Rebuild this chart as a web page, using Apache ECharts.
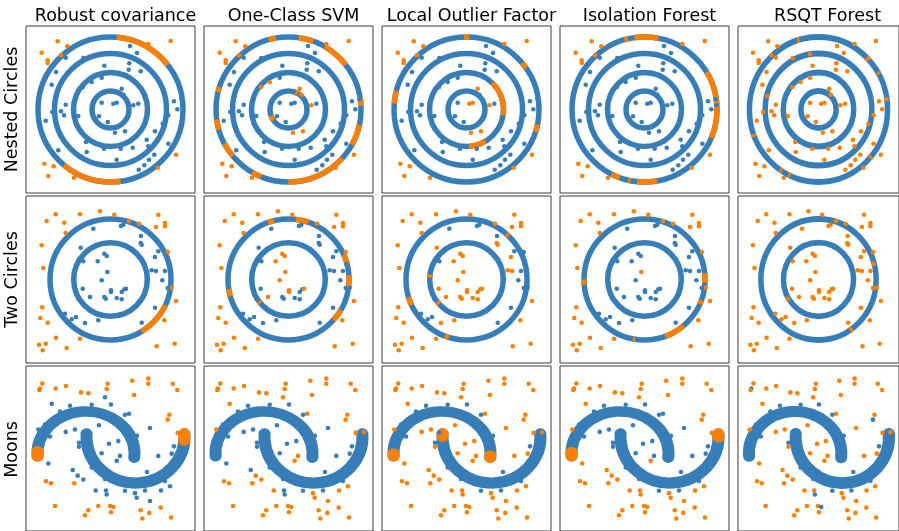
<!DOCTYPE html>
<html>
<head>
<meta charset="utf-8">
<script src="https://cdn.jsdelivr.net/npm/echarts@6/dist/echarts.min.js"></script>
<style>
  html, body { margin: 0; padding: 0; background: #fff; }
  #chart { width: 899px; height: 531px; }
</style>
</head>
<body>
<div id="chart"></div>
<script>
// ---- Labels ----
const methods = ['Robust covariance', 'One-Class SVM', 'Local Outlier Factor', 'Isolation Forest', 'RSQT Forest'];
const datasets = ['Nested Circles', 'Two Circles', 'Moons'];

// ---- Inlier structures: [cx, cy, rx, ry, startDeg, endDeg] (panel units, origin at panel centre) ----
const nestedShapes = [
  [0, 0, 72.5, 72.5, 0, 360],
  [0, 0, 56, 56, 0, 360],
  [0, 0, 37, 37, 0, 360],
  [0, 0, 18.5, 18.5, 0, 360]
];
const twoCircleShapes = [
  [0, 0, 60.5, 60.5, 0, 360],
  [0, 0, 36.8, 36.8, 0, 360]
];
const moonShapes = [
  [-24.5, -5, 48.5, 42.5, -6, 184],
  [25, 11.5, 49, 46.5, 176, 364]
];

// ---- Parts of the structures flagged as outliers, per method: [shapeIndex, startDeg, endDeg] ----
const nestedFlaggedArcs = [
  [[0, 38, 85], [0, 230, 278]],
  [[0, 100, 106], [0, 70, 82], [0, 38, 60], [0, 3, 9], [0, 331, 348], [0, 270, 318], [0, 240, 248],
   [0, 162, 166], [0, 188, 196], [0, 208, 220], [3, 200, 215], [3, 60, 68]],
  [[0, 35, 40], [0, 342, 348], [0, 165, 175], [0, 88, 92], [2, -9, 46], [2, 274, 301]],
  [[0, 79, 98], [0, 103, 106], [0, 5, 31], [0, -23, 2], [0, 264, 280], [0, 243, 250], [0, 257, 259]],
  [[0, 106, 108], [0, 43, 46], [0, 29, 31], [0, -42, -40], [0, 236, 238], [0, 244, 246], [0, 200, 202]]
];
const twoCircleFlaggedArcs = [
  [[0, 301, 335]],
  [[0, 104, 110], [0, 72, 83], [0, 14, 24], [0, -9, 4], [0, 318, 330], [0, 189, 196], [1, 216, 220]],
  [[0, 197, 205], [0, 249, 253], [1, 217, 222], [1, 172, 177], [0, 46, 49]],
  [[0, 180, 185], [0, -3, 6], [0, -24, -20], [0, 290, 310], [0, 259, 261]],
  [[0, 303, 306]]
];
const moonFlaggedArcs = [
  [[0, 177, 184], [1, 356, 364]],
  [],
  [[0, 180, 184], [0, -6, -3], [1, 176, 179]],
  [[0, 178, 184], [1, 360, 364]],
  []
];

// ---- Scattered samples: [x, y, labels per method ('o' = outlier, 'b' = inlier)] ----
const nestedPoints = [
  [-52.8, 68.2, 'ooooo'], [-43.2, 63.2, 'ooooo'], [-68.8, 56.8, 'ooooo'], [-49.5, 54.2, 'ooooo'],
  [-62.8, 49.2, 'ooooo'], [-62.8, 46.5, 'ooooo'], [37.8, 65.5, 'ooooo'], [60.2, 68.5, 'ooooo'],
  [65.5, -45.2, 'ooooo'], [47.2, -58.2, 'ooooo'], [-66.2, -54.2, 'ooooo'], [-56.8, -56.8, 'ooooo'],
  [-62.2, -66.5, 'ooooo'], [-36.5, -68.2, 'ooooo'],
  [19.5, 63.5, 'bbbbo'], [26.5, 56.5, 'bbbbo'], [-44.8, 51.8, 'bbbbo'], [-27.2, 51.5, 'bbbbo'],
  [-8.8, 55.2, 'bbbbo'], [-6.2, 43.8, 'bbbbo'], [18.8, 46.2, 'bbbbo'], [18.2, 39.8, 'bbbbo'],
  [30.2, 38.2, 'bbbbo'], [-54.5, 37.5, 'bbbbo'], [-58.8, 24.8, 'bbbbo'], [-18.8, 27.5, 'bobbo'],
  [-8.8, 31.8, 'bbbbo'], [11.2, 20.8, 'boobo'], [12.8, 14.8, 'bobbo'], [-53.8, 13.5, 'bbbbo'],
  [-44.8, 4.8, 'bbbbo'], [-8.8, 6.8, 'bbbbo'], [2.8, 5.8, 'bbobo'], [6.2, 6.8, 'bbobo'],
  [22.8, 4.2, 'boobo'], [27.8, 5.8, 'bbbbo'], [63.5, 8.2, 'bbbbo'], [71.2, 10.2, 'bbbbo'],
  [66.8, 0.2, 'bbbbo'], [-49.5, -1.8, 'bbbbo'], [-46.5, -5.8, 'bbbbo'], [-32.2, -6.5, 'bbbbo'],
  [-58.2, -2.5, 'bbbbo'], [-11.5, -6.8, 'bbbbo'], [-2.8, -12.5, 'bbbbo'], [57.8, -5.8, 'bbbbo'],
  [52.2, -14.2, 'bbbbo'], [44.5, -21.8, 'bbbbo'], [-64.8, -11.2, 'bbbbo'], [4.5, -23.2, 'boobo'],
  [14.5, -21.8, 'boobo'], [-24.5, -32.5, 'bbbbo'], [36.2, -30.2, 'bbbbo'], [57.8, -34.2, 'bbbbo'],
  [-6.5, -39.2, 'bbbbo'], [10.2, -39.2, 'bbbbo'], [22.2, -38.2, 'bbbbo'], [37.8, -36.8, 'bbbbo'],
  [-23.8, -42.5, 'bbbbo'], [-52.2, -40.8, 'bbbbo'], [6.2, -50.2, 'bbbbo'], [38.5, -50.2, 'bbbbo'],
  [43.8, -45.2, 'bbbbo'], [33.8, -55.8, 'bbbbo'], [28.2, -60.2, 'bbbbo'], [-27.5, 22.5, 'bobbo']
];
const twoCirclePoints = [
  [-54.8, 65.2, 'ooooo'], [-30.5, 65.2, 'ooooo'], [-10.5, 68.2, 'ooooo'], [3.8, 64.8, 'ooooo'],
  [-63.8, 58.5, 'ooooo'], [-46.2, 56.8, 'ooooo'], [-44.8, 46.5, 'ooooo'], [18.5, 58.5, 'ooboo'],
  [28.5, 55.8, 'ooooo'], [47.8, 64.8, 'ooooo'], [45.5, 52.5, 'ooooo'], [54.5, 56.5, 'ooooo'],
  [54.5, 53.2, 'ooooo'], [-68.8, 34.2, 'ooooo'], [-67.2, 11.5, 'ooooo'], [57.2, 27.5, 'ooboo'],
  [61.2, -8.2, 'obboo'], [65.5, -21.5, 'ooooo'], [-68.2, -27.8, 'ooooo'], [-70.2, -38.5, 'ooooo'],
  [-62.8, -43.2, 'ooooo'], [-54.5, -58.2, 'ooooo'], [-30.5, -59.2, 'ooooo'], [-71.5, -65.2, 'ooooo'],
  [-64.8, -64.2, 'ooooo'], [-67.8, -70.8, 'ooooo'], [-43.8, -68.5, 'ooooo'], [53.8, -40.8, 'ooooo'],
  [46.2, -66.8, 'ooooo'], [64.2, -64.2, 'ooooo'],
  [-17.2, 50.8, 'bbbbo'], [10.5, 53.5, 'bbbbo'], [12.8, 54.8, 'bbbbo'], [30.5, 43.5, 'bbbbo'],
  [30.2, 36.5, 'bbobo'], [31.2, 34.8, 'bbobo'], [-29.8, 31.8, 'bbobo'], [-6.2, 25.8, 'boobo'],
  [-3.8, 23.5, 'boobo'], [-27.2, 18.2, 'bbbbo'], [-12.8, 18.2, 'boobo'], [47.8, 28.2, 'bbbbo'],
  [44.5, 22.5, 'bbobo'], [57.8, 15.8, 'bbbbo'], [41.2, 9.2, 'bbobo'], [45.5, 8.5, 'bbobo'],
  [54.5, 8.5, 'bbbbo'], [-3.2, 7.5, 'boooo'], [51.8, -0.8, 'bbbbo'], [-8.8, -0.8, 'boobo'],
  [57.2, -8.5, 'bbbbo'], [-27.8, -9.2, 'bbobo'], [0.5, -10.8, 'boobo'], [0.5, -12.5, 'boobo'],
  [11.2, -12.5, 'bbobo'], [13.8, -9.8, 'bbobo'], [15.5, -9.2, 'boobo'], [-6.2, -17.5, 'bbobo'],
  [-4.8, -19.2, 'bbobo'], [-20.5, -17.5, 'boobo'], [6.2, -18.5, 'bbobo'], [11.2, -19.8, 'bbobo'],
  [-32.2, -19.2, 'bbbbo'], [44.5, -28.2, 'bbbbo'], [-45.5, -34.2, 'bbbbo'], [-34.5, -37.5, 'bbbbo'],
  [-38.8, -39.8, 'bbbbo'], [-25.5, -43.5, 'bbobo'], [-12.2, -40.8, 'bbobo'], [31.2, -43.2, 'bbbbo']
];
const moonPoints = [
  [-68.2, 65.8, 'ooooo'], [-70.5, 60.8, 'oooob'], [-71.2, 59.2, 'ooooo'], [-54.8, 60.8, 'ooooo'],
  [-44.5, 63.2, 'ooooo'], [-29.5, 56.8, 'ooooo'], [-22.2, 55.8, 'ooooo'], [-2.8, 65.5, 'ooooo'],
  [-3.8, 60.2, 'ooooo'], [21.8, 68.5, 'ooooo'], [23.5, 54.2, 'ooooo'], [37.8, 70.8, 'ooooo'],
  [37.8, 65.5, 'ooooo'], [62.2, 65.5, 'ooooo'], [66.8, 59.2, 'ooooo'], [58.8, 34.2, 'ooooo'],
  [57.2, 29.2, 'oooob'], [67.2, 15.8, 'ooooo'], [75.5, 16.5, 'ooooo'], [-64.5, -33.2, 'ooooo'],
  [-59.5, -35.2, 'ooooo'], [-36.2, -35.2, 'ooooo'], [-55.5, -58.2, 'ooooo'], [-22.2, -62.5, 'ooooo'],
  [-25.5, -67.5, 'ooooo'], [-12.2, -58.2, 'ooooo'], [-0.5, -58.2, 'ooooo'], [2.8, -59.2, 'oooob'],
  [0.5, -64.5, 'ooooo'], [30.2, -62.5, 'ooooo'], [31.8, -70.8, 'ooooo'], [38.8, -65.2, 'ooooo'],
  [50.2, -59.8, 'ooooo'], [60.5, -69.8, 'ooooo'],
  [-5.5, 51.8, 'boooo'], [-58.8, 45.2, 'boooo'], [18.5, 35.2, 'boobo'], [-11.5, 23.5, 'bbobo'],
  [-72.2, 19.2, 'boooo'], [-44.8, 16.8, 'bbobo'], [-35.5, 19.2, 'bbobo'], [39.5, 20.8, 'bbobo'],
  [-31.5, 1.8, 'bbobo'], [-1.5, 4.8, 'bbobo'], [7.8, 7.5, 'bbobo'], [-8.8, -4.8, 'bbobo'],
  [9.5, -7.5, 'boobo'], [6.2, -12.5, 'boooo'], [47.8, -7.5, 'bbobo'], [61.2, -5.2, 'bbobo'],
  [-62.2, -15.2, 'bbooo'], [-37.8, -21.8, 'bbooo'], [-32.8, -27.5, 'boooo'], [-27.2, -31.5, 'boooo'],
  [-14.8, -42.5, 'boooo'], [-4.5, -42.5, 'bbooo'], [-3.8, -46.5, 'bboob'], [24.5, -45.2, 'boooo'],
  [26.2, -49.8, 'boooo'], [39.5, -53.2, 'boooo'], [59.5, -38.2, 'boooo'], [50.5, -42.5, 'boooo'],
  // samples along the ragged edges of the two moons
  [-18.8, 44.2, 'bbbbb'], [-50.5, 37.5, 'bbbbb'], [-65.5, 24.2, 'bbbbb'], [-74.2, 7.5, 'bbbbb'],
  [14.5, 34.2, 'bbbbb'], [26.5, 12.8, 'bbbbb'], [-27.5, 16.2, 'bbbbb'], [-31.5, 5.8, 'bbbbb'],
  [-18.8, -19.2, 'bbbbb'], [-5.5, -30.8, 'bbbbb'], [14.5, -42.8, 'bbbbb'], [34.5, -42.5, 'bbbbb'],
  [54.5, -32.8, 'bbbbb'], [69.8, -12.5, 'bbbbb'], [-40.5, 43.2, 'bbbbb'], [0.5, 44.5, 'bbbbb'],
  [-60.5, 12.2, 'bbbbb'], [36.5, -23.8, 'bbbbb'], [-10.5, -22.5, 'bbbbb'], [63.5, 2.2, 'bbbbb']
];

// ---- Layout ----
const COLORS = ['#377eb8', '#ff7f00'];
const colLeft = [26, 204, 382, 560, 738];
const rowTop = [26, 196, 366];
const panelW = 169, panelH = 167;
const rowsSpec = [
  { shapes: nestedShapes, arcs: nestedFlaggedArcs, points: nestedPoints, width: 5.5, cap: 'butt' },
  { shapes: twoCircleShapes, arcs: twoCircleFlaggedArcs, points: twoCirclePoints, width: 5.5, cap: 'butt' },
  { shapes: moonShapes, arcs: moonFlaggedArcs, points: moonPoints, width: 12, cap: 'round' }
];

function arcRenderer(lineWidth, cap) {
  return function (params, api) {
    const c = api.coord([api.value(0), api.value(1)]);
    const s = api.size([api.value(2), api.value(3)]);
    const a0 = api.value(4), a1 = api.value(5);
    return {
      type: 'arc',
      x: c[0], y: c[1],
      scaleY: s[1] / s[0],
      shape: { cx: 0, cy: 0, r: s[0], startAngle: -a1 * Math.PI / 180, endAngle: -a0 * Math.PI / 180, clockwise: true },
      style: { stroke: COLORS[api.value(6)], fill: null, lineWidth: lineWidth, lineCap: cap, strokeNoScale: true }
    };
  };
}

const grids = [], xAxes = [], yAxes = [], series = [];
rowsSpec.forEach((row, r) => {
  methods.forEach((m, c) => {
    const idx = grids.length;
    grids.push({ left: colLeft[c], top: rowTop[r], width: panelW, height: panelH, show: true,
      borderColor: '#3a3a3a', borderWidth: 1, backgroundColor: '#fff' });
    xAxes.push({ gridIndex: idx, type: 'value', min: -panelW / 2, max: panelW / 2, show: false });
    yAxes.push({ gridIndex: idx, type: 'value', min: -panelH / 2, max: panelH / 2, show: false });

    const arcData = row.shapes.map(s => s.concat([0]))
      .concat(row.arcs[c].map(a => {
        const s = row.shapes[a[0]];
        return [s[0], s[1], s[2], s[3], a[1], a[2], 1];
      }));
    series.push({
      type: 'custom', xAxisIndex: idx, yAxisIndex: idx,
      renderItem: arcRenderer(row.width, row.cap),
      encode: { x: 0, y: 1 },
      data: arcData, silent: true
    });
    series.push({
      type: 'scatter', xAxisIndex: idx, yAxisIndex: idx,
      symbolSize: 4.6,
      data: row.points.map(p => [p[0], p[1], p[2][c] === 'o' ? 1 : 0]),
      itemStyle: { opacity: 1, color: p => COLORS[p.data[2]] },
      silent: true
    });
  });
});

const titles = methods.map((m, c) => ({
  text: m, left: colLeft[c] + panelW / 2, top: 2, textAlign: 'center',
  textStyle: { fontFamily: 'DejaVu Sans', fontSize: 17.5, fontWeight: 'normal', color: '#000' }
}));

const rowLabels = datasets.map((d, r) => ({
  type: 'text', x: 12, y: rowTop[r] + panelH / 2, rotation: Math.PI / 2,
  style: { text: d, fontFamily: 'DejaVu Sans', fontSize: 17.5, fill: '#000', align: 'center', verticalAlign: 'middle' }
}));

const chart = echarts.init(document.getElementById('chart'));
chart.setOption({
  animation: false,
  backgroundColor: '#fff',
  title: titles,
  grid: grids,
  xAxis: xAxes,
  yAxis: yAxes,
  series: series,
  graphic: rowLabels
});
</script>
</body>
</html>
